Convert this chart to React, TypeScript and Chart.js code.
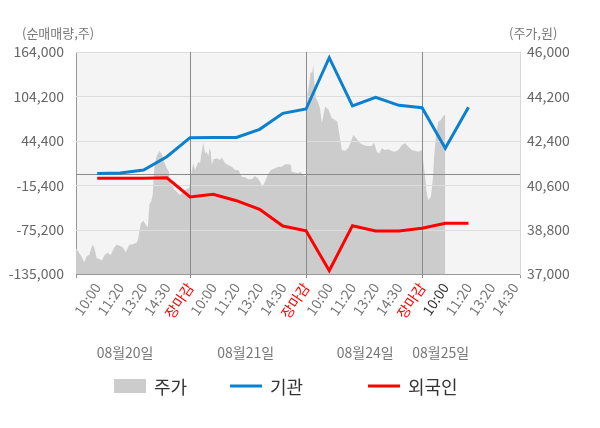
import React, { useEffect, useRef } from "react";
import { Chart, registerables } from "chart.js";

Chart.register(...registerables);

const FONT = "'Noto Sans CJK KR', 'Noto Sans', sans-serif";

// x-axis slots (one per time label)
const xLabels = [
  "10:00", "11:20", "13:20", "14:30", "장마감",
  "10:00", "11:20", "13:20", "14:30", "장마감",
  "10:00", "11:20", "13:20", "14:30", "장마감",
  "10:00", "11:20", "13:20", "14:30",
];
const closeIdx = [4, 9, 14];
const currentIdx = 15;
const xMin = -0.914;
const xMax = 18.22;

const dateLabels = ["08월20일", "08월21일", "08월24일", "08월25일"];
const datePos = [1.2, 6.4, 11.55, 14.8];

const leftTicks = [-135000, -75200, -15400, 44400, 104200, 164000];
const rightTicks = [37000, 38800, 40600, 42400, 44200, 46000];

// 기관 (institution) net volume, per slot
const instSeries = [
  500, 1000, 5000, 23000, 48600, 48800, 48800, 59900, 81400,
  87200, 156300, 91300, 103000, 92200, 89000, 34300, 89500,
];
// 외국인 (foreign) net volume, per slot
const foreignSeries = [
  -6100, -6100, -6100, -5500, -31300, -27700, -36300, -47900, -70400,
  -76700, -130500, -69900, -77100, -77100, -73500, -66700, -66700,
];

// 주가 (price) intraday
const priceX = [
  -0.914, -0.81, -0.67, -0.56, -0.45, -0.34, -0.21, -0.14, -0.02, 0.12,
  0.19, 0.32, 0.44, 0.58, 0.72, 0.84, 0.98, 1.1, 1.23, 1.38,
  1.56, 1.7, 1.77, 1.88, 1.99, 2.1, 2.18, 2.25, 2.32, 2.39,
  2.46, 2.56, 2.68, 2.78, 2.88, 3.0, 3.09, 3.14, 3.35, 3.57,
  3.78, 3.96, 4.07, 4.14, 4.22, 4.36, 4.43, 4.5, 4.57, 4.65,
  4.72, 4.79, 4.84, 4.89, 4.94, 5.01, 5.15, 5.29, 5.37, 5.51,
  5.65, 5.8, 5.94, 6.08, 6.16, 6.23, 6.37, 6.51, 6.66, 6.8,
  6.92, 7.02, 7.12, 7.23, 7.38, 7.49, 7.66, 7.81, 7.95, 8.09,
  8.24, 8.35, 8.38, 8.53, 8.67, 8.74, 8.88, 9.0, 9.06, 9.14,
  9.2, 9.26, 9.31, 9.36, 9.43, 9.53, 9.6, 9.68, 9.75, 9.82,
  9.96, 10.11, 10.25, 10.35, 10.44, 10.54, 10.68, 10.82, 10.93, 11.04,
  11.16, 11.33, 11.47, 11.62, 11.83, 11.93, 12.05, 12.16, 12.26, 12.41,
  12.55, 12.69, 12.84, 12.98, 13.13, 13.27, 13.41, 13.56, 13.7, 13.84,
  13.99, 14.06, 14.13, 14.2, 14.27, 14.38, 14.46, 14.52, 14.6, 14.7,
  14.81, 14.89, 14.95, 15.0,
];
const priceY = [
  38040, 37900, 37700, 37470, 37730, 37770, 38180, 38110, 37640, 37600,
  37540, 37770, 37860, 37770, 38040, 38200, 38140, 38080, 37880, 38180,
  38220, 38270, 38450, 39060, 39160, 38990, 38890, 39840, 39930, 40200,
  41290, 41780, 41990, 41860, 41550, 41290, 41150, 40690, 40410, 40200,
  40410, 40490, 41150, 41490, 41220, 41550, 41490, 41960, 42320, 41890,
  41960, 41760, 42100, 41960, 41420, 41650, 41690, 41620, 41730, 41490,
  41420, 41350, 41220, 41220, 41080, 40940, 40920, 40840, 40840, 40970,
  40880, 40740, 40540, 40740, 41080, 41220, 41290, 41350, 41350, 41450,
  41450, 41420, 41150, 41110, 41080, 41150, 41010, 40950, 44330, 44730,
  45200, 45140, 45470, 44730, 44120, 43920, 43720, 43110, 43450, 43780,
  43680, 43310, 43240, 43170, 42640, 42030, 42000, 42100, 42360, 42640,
  42500, 42300, 42230, 42190, 42190, 42320, 41960, 41890, 42100, 42030,
  42060, 41990, 41960, 42030, 42230, 42300, 42160, 42030, 42000, 41960,
  42030, 41490, 40950, 40270, 40000, 40130, 40810, 41760, 42640, 43170,
  43240, 43380, 43450, 43450,
];

const legendItems = [
  { label: "주가", kind: "box", color: "#cccccc" },
  { label: "기관", kind: "line", color: "#0b80cf" },
  { label: "외국인", kind: "line", color: "#ff0000" },
];

const fmt = (v: number) => Math.round(v).toLocaleString("en-US");

const decorPlugin = {
  id: "decor",
  beforeDraw(chart: any) {
    const { ctx, chartArea: a } = chart;
    ctx.save();
    ctx.fillStyle = "#f4f4f4";
    ctx.fillRect(a.left, a.top, a.right - a.left, a.bottom - a.top);
    ctx.restore();
  },
  afterDatasetDraw(chart: any, args: any) {
    if (args.index !== 2) return;
    const { ctx, chartArea: a } = chart;
    const y = chart.scales.y;
    const x = chart.scales.x;
    ctx.save();
    ctx.lineWidth = 1;
    ctx.strokeStyle = "#dddddd";
    leftTicks.forEach((v) => {
      if (v === leftTicks[0]) return;
      const py = Math.round(y.getPixelForValue(v)) + 0.5;
      ctx.beginPath();
      ctx.moveTo(a.left, py);
      ctx.lineTo(a.right, py);
      ctx.stroke();
    });
    ctx.strokeStyle = "#8a8a8a";
    const zy = Math.round(y.getPixelForValue(0)) + 0.5;
    ctx.beginPath();
    ctx.moveTo(a.left, zy);
    ctx.lineTo(a.right, zy);
    ctx.stroke();
    closeIdx.forEach((i) => {
      const px = Math.round(x.getPixelForValue(i)) + 0.5;
      ctx.beginPath();
      ctx.moveTo(px, a.top);
      ctx.lineTo(px, a.bottom);
      ctx.stroke();
    });
    ctx.restore();
  },
  afterDraw(chart: any) {
    const { ctx } = chart;
    const x = chart.scales.x;
    ctx.save();
    ctx.textBaseline = "middle";
    ctx.fillStyle = "#777777";
    ctx.font = `13px ${FONT}`;
    ctx.textAlign = "left";
    ctx.fillText("(순매매량,주)", 22, 33);
    ctx.fillText("(주가,원)", 509, 33);

    ctx.font = `14px ${FONT}`;
    ctx.textAlign = "center";
    dateLabels.forEach((t, i) => {
      ctx.fillText(t, x.getPixelForValue(datePos[i]), 353);
    });

    const ly = 386;
    const starts = [114, 230, 368];
    ctx.font = `18px ${FONT}`;
    ctx.textAlign = "left";
    legendItems.forEach((it, i) => {
      const sx = starts[i];
      if (it.kind === "box") {
        ctx.fillStyle = it.color;
        ctx.fillRect(sx, ly - 7, 32, 14);
      } else {
        ctx.strokeStyle = it.color;
        ctx.lineWidth = 3;
        ctx.beginPath();
        ctx.moveTo(sx, ly);
        ctx.lineTo(sx + 32, ly);
        ctx.stroke();
      }
      ctx.fillStyle = "#333333";
      ctx.fillText(it.label, sx + 40, ly + 1);
    });
    ctx.restore();
  },
};

export default function App() {
  const ref = useRef<HTMLCanvasElement | null>(null);

  useEffect(() => {
    document.body.style.margin = "0";
    const canvas = ref.current;
    if (!canvas) return;
    const slots = instSeries.map((_, i) => i);
    const chart = new Chart(canvas, {
      type: "line",
      data: {
        datasets: [
          {
            label: "기관",
            data: slots.map((s, i) => ({ x: s, y: instSeries[i] })),
            yAxisID: "y",
            borderColor: "#0b80cf",
            borderWidth: 3,
            pointRadius: 0,
            fill: false,
            tension: 0,
          },
          {
            label: "외국인",
            data: slots.map((s, i) => ({ x: s, y: foreignSeries[i] })),
            yAxisID: "y",
            borderColor: "#ff0000",
            borderWidth: 3,
            pointRadius: 0,
            fill: false,
            tension: 0,
          },
          {
            label: "주가",
            data: priceX.map((s, i) => ({ x: s, y: priceY[i] })),
            yAxisID: "y1",
            borderWidth: 0,
            borderColor: "rgba(0,0,0,0)",
            backgroundColor: "#cccccc",
            pointRadius: 0,
            fill: "start",
            tension: 0,
          },
        ],
      },
      options: {
        animation: false,
        responsive: false,
        maintainAspectRatio: false,
        layout: { padding: { top: 52, left: 0, right: 0, bottom: 0 } },
        plugins: {
          legend: { display: false },
          tooltip: { enabled: false },
        },
        scales: {
          x: {
            type: "linear",
            min: xMin,
            max: xMax,
            afterBuildTicks: (axis: any) => {
              const vals = [xMin, ...xLabels.map((_, i) => i), xMax];
              axis.ticks = vals.map((v) => ({ value: v }));
            },
            afterFit: (scale: any) => {
              scale.height = 154;
            },
            grid: {
              drawOnChartArea: false,
              drawTicks: true,
              tickLength: 4,
              color: "rgba(0,0,0,0)",
              tickColor: (c: any) => {
                const v = c.tick?.value;
                if (v === xMin || v === xMax) return "#999999";
                return closeIdx.includes(v) ? "#8a8a8a" : "rgba(0,0,0,0)";
              },
            },
            border: { display: true, color: "#999999" },
            ticks: {
              autoSkip: false,
              maxRotation: 56,
              minRotation: 56,
              padding: 2,
              font: { family: FONT, size: 14 },
              color: (c: any) => {
                const v = c.tick?.value;
                if (closeIdx.includes(v)) return "#ff0000";
                if (v === currentIdx) return "#333333";
                return "#777777";
              },
              callback: (value: any) => {
                const v = Number(value);
                const i = Math.round(v);
                if (Math.abs(v - i) > 1e-6 || i < 0 || i >= xLabels.length) return "";
                return xLabels[i];
              },
            },
          },
          y: {
            type: "linear",
            position: "left",
            min: leftTicks[0],
            max: leftTicks[leftTicks.length - 1],
            afterBuildTicks: (axis: any) => {
              axis.ticks = leftTicks.map((v) => ({ value: v }));
            },
            afterFit: (scale: any) => {
              scale.width = 76;
            },
            grid: { drawOnChartArea: false, drawTicks: false },
            border: { display: true, color: "#999999" },
            ticks: {
              padding: 12,
              color: "#666666",
              font: { family: FONT, size: 14 },
              callback: (v: any) => fmt(Number(v)),
            },
          },
          y1: {
            type: "linear",
            position: "right",
            min: rightTicks[0],
            max: rightTicks[rightTicks.length - 1],
            afterBuildTicks: (axis: any) => {
              axis.ticks = rightTicks.map((v) => ({ value: v }));
            },
            afterFit: (scale: any) => {
              scale.width = 80;
            },
            grid: { drawOnChartArea: false, drawTicks: false },
            border: { display: true, color: "#d8d8d8" },
            ticks: {
              padding: 7,
              color: "#666666",
              font: { family: FONT, size: 14 },
              callback: (v: any) => fmt(Number(v)),
            },
          },
        },
      },
      plugins: [decorPlugin],
    });
    return () => chart.destroy();
  }, []);

  return (
    <div style={{ position: "absolute", left: 0, top: 0, width: 600, height: 428, background: "#ffffff" }}>
      <canvas ref={ref} width={600} height={428} style={{ width: 600, height: 428, display: "block" }} />
    </div>
  );
}
